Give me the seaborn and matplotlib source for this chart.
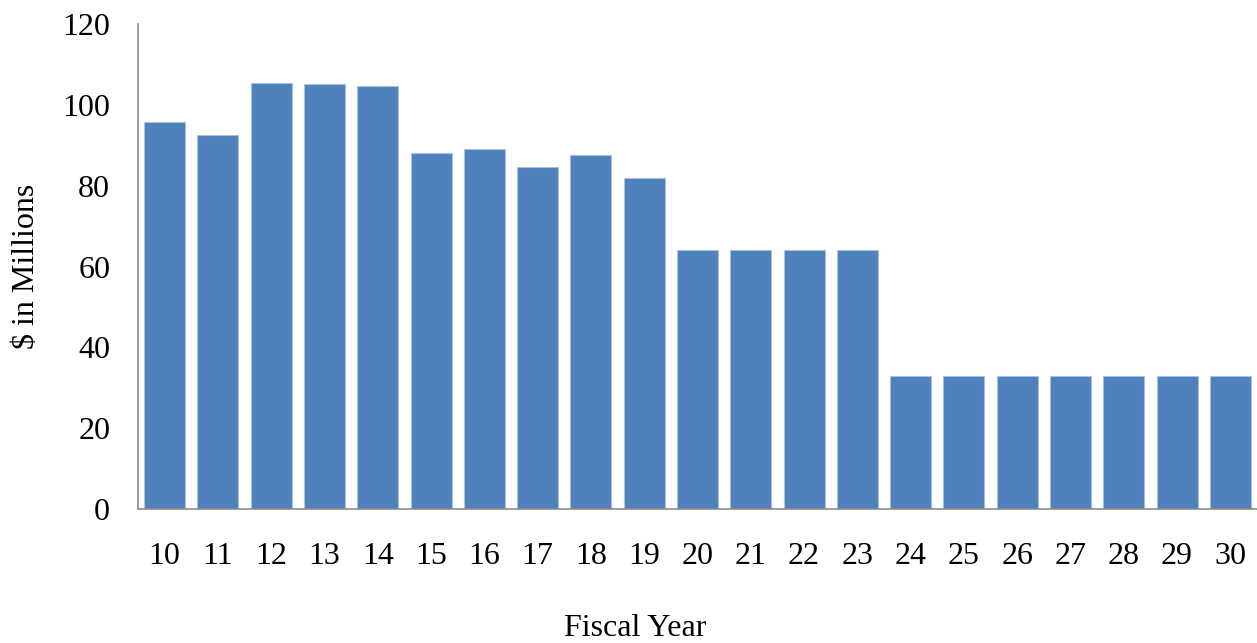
import matplotlib
matplotlib.use("Agg")
import matplotlib.pyplot as plt
import seaborn as sns
from pandas import DataFrame

years = ["10", "11", "12", "13", "14", "15", "16", "17", "18", "19", "20",
         "21", "22", "23", "24", "25", "26", "27", "28", "29", "30"]
millions = [95.7, 92.5, 105.3, 105.1, 104.7, 88.2, 89.0, 84.7, 87.7, 81.9, 64.2,
            64.2, 64.2, 64.2, 33.0, 33.0, 33.0, 33.0, 33.0, 33.0, 33.0]
y_ticks = [0, 20, 40, 60, 80, 100, 120]

sns.set_style("white")
plt.rcParams["font.family"] = ["Liberation Serif", "DejaVu Serif"]

df = DataFrame({"year": years, "value": millions})

fig = plt.figure(figsize=(12.57, 6.43), dpi=100)
ax = fig.add_axes([138 / 1257, 1 - 509 / 643, 1 - 138 / 1257, (509 - 24) / 643])

sns.barplot(data=df, x="year", y="value", ax=ax, color="#4F81BD", saturation=1,
            width=0.77, edgecolor="#A7C0E0", linewidth=0.8)

ax.set_ylim(0, 120)
ax.set_xlim(-0.5, len(years) - 0.5)
ax.set_yticks(y_ticks)
ax.tick_params(axis="both", length=0, labelsize=23, colors="black")
ax.tick_params(axis="y", pad=20)
ax.tick_params(axis="x", pad=24)

for side in ["top", "right"]:
    ax.spines[side].set_visible(False)
for side in ["left", "bottom"]:
    ax.spines[side].set_color("#8C8C8C")
    ax.spines[side].set_linewidth(1.2)

ax.set_xlabel("Fiscal Year", fontsize=23, color="black")
ax.set_ylabel("$ in Millions", fontsize=23, color="black")
ax.xaxis.set_label_coords(0.444, -0.217)
ax.yaxis.set_label_coords(-0.0865, 0.5)

fig.savefig("out.png", dpi=100)
